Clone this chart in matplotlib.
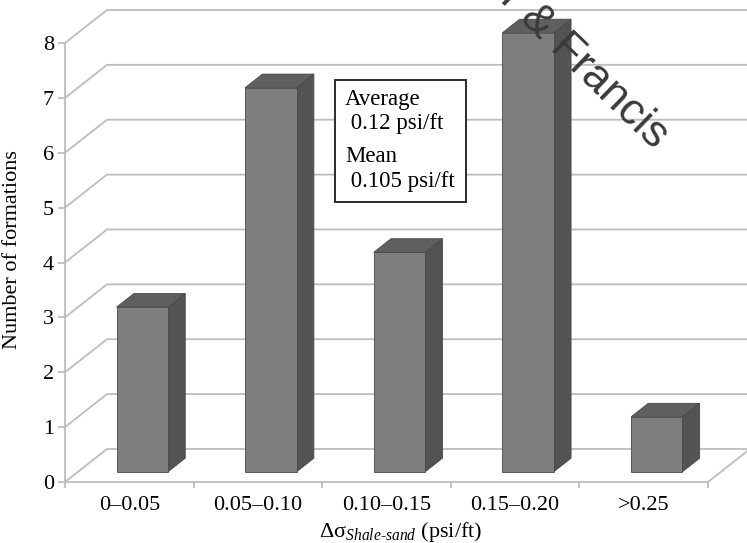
import numpy as np
import matplotlib.pyplot as plt
from matplotlib.patches import Polygon, Rectangle

plt.rcParams['font.family'] = ['Liberation Serif', 'DejaVu Serif']
plt.rcParams['mathtext.fontset'] = 'custom'
plt.rcParams['mathtext.rm'] = 'Liberation Serif'
plt.rcParams['mathtext.it'] = 'Liberation Serif:italic'

# Histogram of shale-sand stress gradient contrast
categories = ['0\u20130.05', '0.05\u20130.10', '0.10\u20130.15', '0.15\u20130.20', '>0.25']
counts = [3, 7, 4, 8, 1]
y_ticks = [0, 1, 2, 3, 4, 5, 6, 7, 8]
note_lines = ['Average', ' 0.12 psi/ft', 'Mean', ' 0.105 psi/ft']

W, H = 747, 543
fig = plt.figure(figsize=(W / 100, H / 100), dpi=100)
ax = fig.add_axes([65 / W, 61 / H, 643 / W, 439 / H])
ax.set_xlim(0, len(categories))
ax.set_ylim(0, 8)

# depth of the pseudo-3D box, in data units
DX, DY = 0.3266, 0.602
grid_c = '#bdbdbd'

# wall gridlines: side wall diagonal + back wall horizontal
for v in y_ticks:
    ax.plot([0, DX, len(categories) + DX], [v, v + DY, v + DY],
            color=grid_c, lw=1.3, clip_on=False, zorder=1)
# right edge of the floor
ax.plot([len(categories), len(categories) + DX], [0, DY],
        color=grid_c, lw=1.3, clip_on=False, zorder=1)

# bars
w = 0.4
f0, f1 = 0.31, 0.72
front_c, side_c, top_c, edge_c = '#7e7e80', '#535355', '#5f5f61', '#484848'
for i, h in enumerate(counts):
    x0 = i + 0.5 - w / 2
    xa, ya = x0 + f0 * DX, f0 * DY
    xb, yb = x0 + f1 * DX, f1 * DY
    front = [(xa, ya), (xa + w, ya), (xa + w, ya + h), (xa, ya + h)]
    side = [(xa + w, ya), (xb + w, yb), (xb + w, yb + h), (xa + w, ya + h)]
    top = [(xa, ya + h), (xa + w, ya + h), (xb + w, yb + h), (xb, yb + h)]
    for pts, c in [(side, side_c), (top, top_c), (front, front_c)]:
        ax.add_patch(Polygon(pts, closed=True, facecolor=c, edgecolor=edge_c,
                             lw=0.6, zorder=3, clip_on=False))

# axes frame
for s in ['top', 'right']:
    ax.spines[s].set_visible(False)
for s in ['left', 'bottom']:
    ax.spines[s].set_color(grid_c)
    ax.spines[s].set_linewidth(1.3)
    ax.spines[s].set_zorder(2)

ax.set_yticks(y_ticks)
ax.set_yticklabels([str(t) for t in y_ticks])
ax.set_xticks(np.arange(len(categories) + 1), minor=True)
ax.set_xticks(np.arange(len(categories)) + 0.5)
ax.set_xticklabels(categories)
ax.tick_params(axis='x', which='major', length=0, pad=10, labelsize=16)
ax.tick_params(axis='x', which='minor', length=4, width=1.3, color=grid_c)
ax.tick_params(axis='y', length=5, width=1.3, color=grid_c, pad=3, labelsize=16)
ax.set_facecolor('none')

fig.text(13 / W, 1 - 250 / H, 'Number of formations', rotation=90,
         ha='center', va='center', fontsize=16)
fig.text(401 / W, 6 / H,
         '\u0394\u03c3$_{\\mathit{Shale}\\text{-}\\mathit{sand}}$ (psi/ft)',
         ha='center', va='baseline', fontsize=16)

# statistics note
fig.add_artist(Rectangle((335 / W, 1 - 202 / H), 131 / W, 122 / H,
                         transform=fig.transFigure, facecolor='white',
                         edgecolor='#2b2b2b', lw=1.4, zorder=5))
for txt, yp in zip(note_lines, [100, 124, 157, 182]):
    fig.text(345 / W, 1 - yp / H, txt, ha='left', va='center',
             fontsize=16.5, zorder=6)

# publisher watermark
fig.text(654 / W, 1 - 150 / H, 'Taylor & Francis', rotation=-44,
         rotation_mode='anchor', ha='right', va='baseline',
         fontsize=32, family='Liberation Sans', color='#3a3a3a', zorder=7)

fig.savefig('out.png', dpi=100)
